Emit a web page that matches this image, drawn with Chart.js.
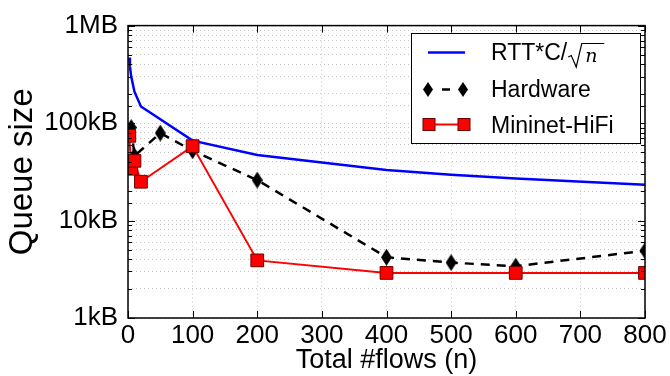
<!DOCTYPE html>
<html>
<head>
<meta charset="utf-8">
<script src="https://cdn.jsdelivr.net/npm/chart.js@4.4.0/dist/chart.umd.min.js"></script>
<style>
  html, body { margin: 0; padding: 0; background: #fff; }
  #wrap { width: 670px; height: 376px; position: relative; }
</style>
</head>
<body>
<div id="wrap"><canvas id="queueChart"></canvas></div>
<script>
// queue size in kB against total number of flows
const bufferFlows = [2, 3, 5, 10, 20, 100, 200, 400, 500, 600, 800];
const bufferKB = [470, 380, 300, 210, 148, 66, 47, 33, 29.5, 27, 23.3];

const hardwareFlows = [5, 10, 50, 100, 200, 400, 500, 600, 800];
const hardwareKB = [90, 46, 79, 52, 26, 4.2, 3.7, 3.4, 4.9];

const hifiFlows = [2, 5, 10, 20, 100, 200, 400, 600, 800];
const hifiKB = [74, 34, 41, 25, 58, 3.9, 2.9, 2.9, 2.9];

const yTickValues = [1, 10, 100, 1000];
const yTickNames = ['1kB', '10kB', '100kB', '1MB'];

const FONT = '"Liberation Sans", Arial, Helvetica, sans-serif';

function toPoints(xs, ys) {
    return xs.map((x, i) => ({ x: x, y: ys[i] }));
}

// tall thin diamond like the gnuplot one
function makeDiamond(w, h) {
    const c = document.createElement('canvas');
    c.width = w;
    c.height = h;
    const g = c.getContext('2d');
    g.fillStyle = '#000';
    g.beginPath();
    g.moveTo(w / 2, 0);
    g.lineTo(w, h / 2);
    g.lineTo(w / 2, h);
    g.lineTo(0, h / 2);
    g.closePath();
    g.fill();
    return c;
}
const diamond = makeDiamond(11, 17);
const smallDiamond = makeDiamond(10, 15);

function drawSquare(ctx, x, y) {
    ctx.fillStyle = '#ff0000';
    ctx.strokeStyle = '#6a0000';
    ctx.lineWidth = 1;
    ctx.fillRect(x - 6, y - 6, 12, 12);
    ctx.strokeRect(x - 6, y - 6, 12, 12);
}

// box around the plot, ticks pointing inwards
const framePlugin = {
    id: 'frame',
    afterDatasetsDraw(chart) {
        const ctx = chart.ctx;
        const a = chart.chartArea;
        const xs = chart.scales.x;
        const ys = chart.scales.y;
        ctx.save();
        ctx.strokeStyle = '#000';
        ctx.lineWidth = 1;
        ctx.beginPath();
        ys.ticks.forEach(t => {
            const py = Math.round(ys.getPixelForValue(t.value)) + 0.5;
            const major = yTickValues.includes(t.value);
            const len = major ? 7 : 4;
            ctx.moveTo(a.left, py); ctx.lineTo(a.left + len, py);
            ctx.moveTo(a.right, py); ctx.lineTo(a.right - len, py);
        });
        xs.ticks.forEach(t => {
            const px = Math.round(xs.getPixelForValue(t.value)) + 0.5;
            ctx.moveTo(px, a.bottom); ctx.lineTo(px, a.bottom - 7);
            ctx.moveTo(px, a.top); ctx.lineTo(px, a.top + 7);
        });
        ctx.stroke();
        ctx.lineWidth = 1.5;
        ctx.strokeRect(a.left, a.top, a.right - a.left, a.bottom - a.top);
        ctx.restore();
    }
};

const legendPlugin = {
    id: 'boxLegend',
    afterDraw(chart) {
        const ctx = chart.ctx;
        ctx.save();
        ctx.fillStyle = '#fff';
        ctx.fillRect(411.5, 33.5, 229, 110);
        ctx.strokeStyle = '#000';
        ctx.lineWidth = 1;
        ctx.strokeRect(411.5, 33.5, 229, 110);

        // RTT*C/sqrt(n)
        ctx.strokeStyle = '#0000ff';
        ctx.lineWidth = 2.5;
        ctx.beginPath();
        ctx.moveTo(428, 52.5); ctx.lineTo(465, 52.5);
        ctx.stroke();

        // Hardware
        ctx.strokeStyle = '#000';
        ctx.lineWidth = 2.5;
        ctx.beginPath();
        ctx.moveTo(442, 89.5); ctx.lineTo(450, 89.5);
        ctx.stroke();
        ctx.drawImage(smallDiamond, 423, 82);
        ctx.drawImage(smallDiamond, 458, 82);

        // Mininet-HiFi
        ctx.strokeStyle = '#ff0000';
        ctx.lineWidth = 2;
        ctx.beginPath();
        ctx.moveTo(429, 124.5); ctx.lineTo(464, 124.5);
        ctx.stroke();
        drawSquare(ctx, 429, 124.5);
        drawSquare(ctx, 464, 124.5);

        ctx.fillStyle = '#000';
        ctx.font = '23px ' + FONT;
        ctx.textBaseline = 'alphabetic';
        ctx.fillText('RTT*C/', 491, 60);
        ctx.fillText('Hardware', 491, 96.5);
        ctx.fillText('Mininet-HiFi', 491, 133);

        const rx = 491 + ctx.measureText('RTT*C/').width + 1;
        ctx.strokeStyle = '#000';
        ctx.lineWidth = 1.2;
        ctx.beginPath();
        ctx.moveTo(rx, 57);
        ctx.lineTo(rx + 3, 55.5);
        ctx.lineTo(rx + 8, 67);
        ctx.lineTo(rx + 13.5, 43.5);
        ctx.lineTo(rx + 36, 43.5);
        ctx.stroke();
        ctx.font = 'italic 19px "DejaVu Serif", serif';
        ctx.fillText('n', rx + 17, 62);
        ctx.restore();
    }
};

const ctx = document.getElementById('queueChart').getContext('2d');
const queueChart = new Chart(ctx, {
    type: 'line',
    data: {
        datasets: [
            {
                label: 'RTT*C/sqrt(n)',
                data: toPoints(bufferFlows, bufferKB),
                borderColor: '#0000ff',
                borderWidth: 2.5,
                pointRadius: 0,
                tension: 0,
                order: 2
            },
            {
                label: 'Hardware',
                data: toPoints(hardwareFlows, hardwareKB),
                borderColor: '#000',
                borderWidth: 2.5,
                borderDash: [9, 7],
                pointStyle: diamond,
                pointRadius: 8,
                tension: 0,
                order: 1
            },
            {
                label: 'Mininet-HiFi',
                data: toPoints(hifiFlows, hifiKB),
                borderColor: '#ff0000',
                borderWidth: 2,
                pointStyle: 'rect',
                pointRadius: 9,
                pointBackgroundColor: '#ff0000',
                pointBorderColor: '#6a0000',
                pointBorderWidth: 1,
                tension: 0,
                order: 0
            }
        ]
    },
    options: {
        responsive: true,
        maintainAspectRatio: false,
        animation: false,
        layout: { padding: { top: 20, right: 25, left: 0, bottom: 0 } },
        plugins: {
            legend: { display: false },
            tooltip: { enabled: false }
        },
        scales: {
            x: {
                type: 'linear',
                min: 0,
                max: 800,
                ticks: {
                    stepSize: 100,
                    color: '#000',
                    padding: 2,
                    font: { family: FONT, size: 26 }
                },
                grid: { color: '#c4c4c4', lineWidth: 1, drawTicks: false },
                border: { display: false, dash: [1, 3] },
                title: {
                    display: true,
                    text: 'Total #flows (n)',
                    color: '#000',
                    padding: { top: 0, bottom: -1 },
                    font: { family: FONT, size: 27 }
                },
                afterFit(scale) { scale.height = 58; }
            },
            y: {
                type: 'logarithmic',
                min: 1,
                max: 1000,
                ticks: {
                    autoSkip: false,
                    color: '#000',
                    padding: 10,
                    font: { family: FONT, size: 26 },
                    callback: function (value) {
                        const i = yTickValues.indexOf(value);
                        return i >= 0 ? yTickNames[i] : '';
                    }
                },
                grid: { color: '#c4c4c4', lineWidth: 1, drawTicks: false },
                border: { display: false, dash: [1, 3] },
                title: {
                    display: true,
                    text: 'Queue size',
                    color: '#000',
                    padding: { top: 3, bottom: 0 },
                    font: { family: FONT, size: 33 }
                },
                afterFit(scale) { scale.width = 128; }
            }
        }
    },
    plugins: [framePlugin, legendPlugin]
});
</script>
</body>
</html>
